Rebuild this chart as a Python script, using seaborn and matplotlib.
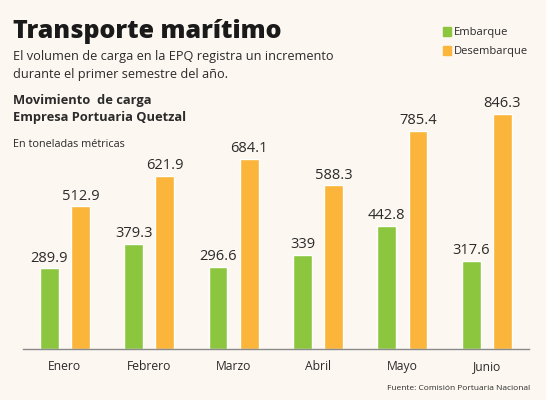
import pandas as pd
import matplotlib.pyplot as plt
import seaborn as sns

# datos
meses = ['Enero', 'Febrero', 'Marzo', 'Abril', 'Mayo', 'Junio']
embarque = [289.9, 379.3, 296.6, 339, 442.8, 317.6]
desembarque = [512.9, 621.9, 684.1, 588.3, 785.4, 846.3]
series = ['Embarque', 'Desembarque']
colores = ['#8CC63F', '#FBB53A']

fondo = '#FCF7F0'
texto = '#2B2B2B'

sns.set_style('white')
plt.rcParams['font.family'] = ['Open Sans', 'DejaVu Sans']

df = pd.DataFrame({
    'Mes': meses * 2,
    'Valor': embarque + desembarque,
    'Tipo': [series[0]] * len(meses) + [series[1]] * len(meses),
})

fig = plt.figure(figsize=(5.46, 4), dpi=100, facecolor=fondo)
ax = fig.add_axes([22.6 / 546, 51 / 400, (529 - 22.6) / 546, 278 / 400])
ax.set_facecolor(fondo)

sns.barplot(data=df, x='Mes', y='Valor', hue='Tipo', palette=colores,
            width=0.74, gap=0.4, ax=ax, legend=False, saturation=1)

for cont in ax.containers:
    ax.bar_label(cont, labels=[f'{b.get_height():g}' for b in cont],
                 padding=2, fontsize=10.5, color=texto)

ax.set_xlim(-0.5, len(meses) - 0.5)
ax.set_ylim(0, 1000)
ax.set_xlabel('')
ax.set_ylabel('')
ax.set_yticks([])
for s in ['top', 'left', 'right']:
    ax.spines[s].set_visible(False)
ax.spines['bottom'].set_color('#8A8A8A')
ax.spines['bottom'].set_linewidth(1)
ax.tick_params(axis='x', which='major', length=0, pad=8, labelsize=8.7, labelcolor=texto)
ax.set_xticks([i - 0.5 for i in range(len(meses) + 1)], minor=True)
ax.tick_params(axis='x', which='minor', direction='in', length=6, color='#8A8A8A', width=1)

# textos
fig.text(13 / 546, 1 - 38 / 400, 'Transporte marítimo', fontsize=18, fontweight='heavy',
         color='#1A1A1A')
fig.text(13 / 546, 1 - 60 / 400, 'El volumen de carga en la EPQ registra un incremento',
         fontsize=9.2, color=texto)
fig.text(13 / 546, 1 - 78 / 400, 'durante el primer semestre del año.',
         fontsize=9.2, color=texto)
fig.text(13 / 546, 1 - 104 / 400, 'Movimiento  de carga', fontsize=9.3,
         fontweight='bold', color=texto)
fig.text(13 / 546, 1 - 121 / 400, 'Empresa Portuaria Quetzal', fontsize=9.3,
         fontweight='bold', color=texto)
fig.text(13 / 546, 1 - 147 / 400, 'En toneladas métricas', fontsize=7.8, color=texto)
fig.text(530 / 546, 1 - 390 / 400, 'Fuente: Comisión Portuaria Nacional', fontsize=6,
         color=texto, ha='right')

# leyenda
for i, (nombre, c) in enumerate(zip(series, colores)):
    y = 1 - (35 + 19 * i) / 400
    fig.patches.append(plt.Rectangle((443 / 546, y - 1 / 400), 8 / 546, 9 / 400,
                                     transform=fig.transFigure, color=c, figure=fig))
    fig.text(454 / 546, y, nombre, fontsize=8, color=texto)

fig.savefig('out.png', dpi=100, facecolor=fondo)
